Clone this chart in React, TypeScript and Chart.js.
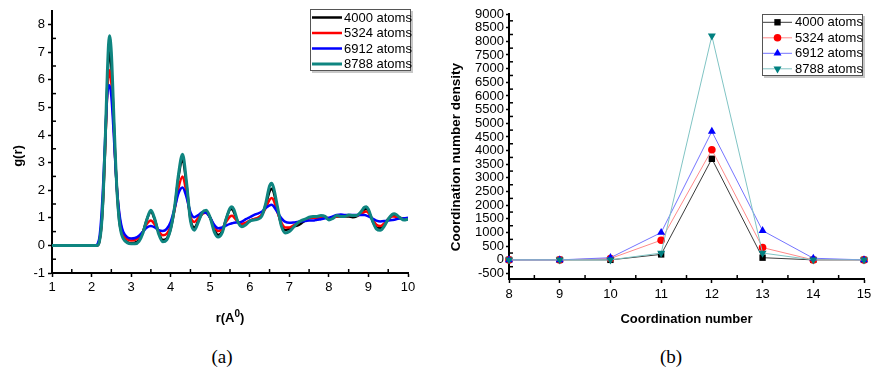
import React, { useEffect, useRef } from "react";
import { Chart, registerables } from "chart.js";

Chart.register(...registerables);
Chart.defaults.font.family = '"Liberation Sans", Arial, sans-serif';
Chart.defaults.color = "#000";

// ---------- (a) radial distribution function g(r) ----------
const rValues = [
  1.0, 2.0, 2.1, 2.15, 2.2, 2.25, 2.3, 2.35, 2.4, 2.45,
  2.5, 2.55, 2.6, 2.65, 2.7, 2.75, 2.8, 2.9, 3.0, 3.1,
  3.2, 3.3, 3.4, 3.5, 3.6, 3.7, 3.8, 3.9, 4.0, 4.1,
  4.2, 4.3, 4.4, 4.5, 4.6, 4.7, 4.8, 4.9, 5.0, 5.1,
  5.2, 5.3, 5.4, 5.5, 5.55, 5.6, 5.7, 5.8, 5.9, 6.0,
  6.1, 6.2, 6.3, 6.4, 6.5, 6.55, 6.6, 6.7, 6.8, 6.9,
  7.0, 7.1, 7.2, 7.3, 7.4, 7.5, 7.6, 7.7, 7.8, 7.9,
  8.0, 8.1, 8.2, 8.3, 8.4, 8.5, 8.6, 8.7, 8.8, 8.9,
  8.95, 9.0, 9.1, 9.2, 9.3, 9.4, 9.5, 9.6, 9.65, 9.7,
  9.8, 9.9, 10.0,
];

const g4000 = [
  0, 0, 0, 0, 0.15, 0.7, 1.9, 3.8, 5.9, 7.0,
  6.5, 4.9, 3.1, 1.8, 0.9, 0.5, 0.3, 0.12, 0.08, 0.1,
  0.2, 0.5, 0.95, 1.22, 0.92, 0.45, 0.2, 0.25, 0.6, 1.35,
  2.5, 3.1, 2.2, 0.95, 0.65, 0.9, 1.15, 1.2, 1.0, 0.6,
  0.38, 0.5, 0.95, 1.3, 1.32, 1.2, 0.85, 0.72, 0.78, 0.88,
  0.95, 0.98, 1.1, 1.45, 1.95, 2.05, 1.95, 1.3, 0.75, 0.55,
  0.6, 0.68, 0.72, 0.8, 0.9, 1.0, 1.02, 1.0, 1.05, 1.05,
  0.95, 1.0, 1.05, 1.05, 1.05, 1.05, 1.02, 1.05, 1.15, 1.3,
  1.32, 1.25, 0.9, 0.65, 0.62, 0.75, 0.95, 1.08, 1.1, 1.08,
  1.0, 0.95, 0.95,
];

const g5324 = [
  0, 0, 0, 0, 0.18, 0.75, 2.0, 3.8, 5.6, 6.35,
  5.9, 4.6, 3.1, 1.9, 1.1, 0.65, 0.4, 0.22, 0.18, 0.2,
  0.3, 0.5, 0.78, 0.9, 0.75, 0.5, 0.37, 0.42, 0.7, 1.3,
  2.1, 2.5, 1.9, 1.05, 0.85, 1.0, 1.15, 1.18, 1.0, 0.7,
  0.52, 0.6, 0.85, 1.05, 1.07, 1.02, 0.85, 0.78, 0.82, 0.9,
  0.95, 1.0, 1.1, 1.35, 1.65, 1.72, 1.65, 1.2, 0.82, 0.65,
  0.65, 0.72, 0.8, 0.88, 0.93, 0.98, 1.0, 1.0, 1.02, 1.02,
  0.97, 1.0, 1.05, 1.05, 1.05, 1.08, 1.08, 1.08, 1.12, 1.22,
  1.23, 1.18, 0.95, 0.75, 0.7, 0.8, 0.95, 1.05, 1.05, 1.03,
  1.0, 0.97, 0.97,
];

const g6912 = [
  0, 0, 0, 0.05, 0.3, 1.1, 2.4, 4.1, 5.5, 5.8,
  5.4, 4.3, 3.0, 1.9, 1.2, 0.75, 0.5, 0.3, 0.25, 0.27,
  0.35, 0.5, 0.65, 0.7, 0.65, 0.55, 0.52, 0.6, 0.85, 1.35,
  1.9, 2.1, 1.75, 1.2, 1.02, 1.1, 1.2, 1.18, 1.0, 0.75,
  0.62, 0.65, 0.72, 0.78, 0.8, 0.82, 0.83, 0.86, 0.95, 1.02,
  1.1, 1.15, 1.22, 1.35, 1.45, 1.47, 1.42, 1.2, 0.98, 0.85,
  0.82, 0.83, 0.85, 0.87, 0.88, 0.9, 0.9, 0.93, 0.95, 0.98,
  1.0, 1.05, 1.1, 1.12, 1.1, 1.1, 1.1, 1.1, 1.1, 1.1,
  1.08, 1.05, 0.98, 0.9, 0.87, 0.88, 0.9, 0.92, 0.93, 0.95,
  0.97, 0.98, 1.0,
];

const g8788 = [
  0, 0, 0, 0, 0.15, 0.7, 2.0, 4.0, 6.3, 7.6,
  7.0, 5.2, 3.3, 1.8, 0.9, 0.45, 0.25, 0.1, 0.06, 0.06,
  0.15, 0.45, 0.95, 1.27, 0.95, 0.4, 0.13, 0.2, 0.6, 1.4,
  2.6, 3.3, 2.3, 0.9, 0.55, 0.85, 1.2, 1.27, 1.0, 0.5,
  0.3, 0.45, 0.95, 1.35, 1.4, 1.3, 0.85, 0.68, 0.75, 0.88,
  0.92, 0.95, 1.05, 1.5, 2.15, 2.25, 2.1, 1.4, 0.7, 0.45,
  0.5, 0.65, 0.8, 0.9, 0.95, 1.02, 1.05, 1.05, 1.08, 1.05,
  0.92, 0.98, 1.08, 1.05, 1.05, 1.1, 1.08, 1.08, 1.2, 1.38,
  1.4, 1.3, 0.9, 0.6, 0.55, 0.7, 0.95, 1.12, 1.15, 1.12,
  1.0, 0.92, 0.95,
];

// ---------- (b) coordination number density ----------
const coordNumbers = [8, 9, 10, 11, 12, 13, 14, 15];
const cn4000 = [0, 0, 0, 200, 3700, 80, 0, 0];
const cn5324 = [0, 0, 50, 720, 4030, 450, 0, 0];
const cn6912 = [0, 0, 80, 1000, 4700, 1070, 60, 0];
const cn8788 = [0, 0, 0, 250, 8200, 250, 0, 0];
const densityTicks = [
  -500, 0, 500, 1000, 1500, 2000, 2500, 3000, 3500, 4000,
  4500, 5000, 5500, 6000, 6500, 7000, 7500, 8000, 8500, 9000,
];

const seriesLabels = ["4000 atoms", "5324 atoms", "6912 atoms", "8788 atoms"];

const FONT = '"Liberation Sans", Arial, sans-serif';

function drawMarker(ctx: CanvasRenderingContext2D, ds: any, x: number, y: number) {
  const r = ds.pointRadius;
  ctx.fillStyle = ds.pointBackgroundColor;
  ctx.beginPath();
  if (ds.pointStyle === "rect") {
    const s = r * Math.SQRT1_2;
    ctx.rect(x - s, y - s, 2 * s, 2 * s);
  } else if (ds.pointStyle === "circle") {
    ctx.arc(x, y, r, 0, Math.PI * 2);
  } else if (ds.pointStyle === "triangle") {
    const d = ds.pointRotation === 180 ? -1 : 1;
    ctx.moveTo(x, y - d * r);
    ctx.lineTo(x - r * 0.866, y + d * r * 0.5);
    ctx.lineTo(x + r * 0.866, y + d * r * 0.5);
    ctx.closePath();
  }
  ctx.fill();
}

const boxLegendPlugin = {
  id: "boxLegend",
  afterDatasetsDraw(chart: any, _args: any, o: any) {
    if (!o || !o.display) return;
    const ctx: CanvasRenderingContext2D = chart.ctx;
    ctx.save();
    ctx.fillStyle = "#c8c8c8";
    ctx.fillRect(o.x + 2, o.y + 2, o.w, o.h);
    ctx.fillStyle = "#fff";
    ctx.fillRect(o.x, o.y, o.w, o.h);
    ctx.strokeStyle = "#555";
    ctx.lineWidth = 1;
    ctx.strokeRect(o.x + 0.5, o.y + 0.5, o.w - 1, o.h - 1);
    chart.data.datasets.forEach((ds: any, i: number) => {
      const cy = o.firstY + i * o.rowH;
      ctx.strokeStyle = ds.borderColor;
      ctx.lineWidth = ds.borderWidth;
      ctx.beginPath();
      ctx.moveTo(o.lineX0, cy);
      ctx.lineTo(o.lineX1, cy);
      ctx.stroke();
      if (o.markers) drawMarker(ctx, ds, (o.lineX0 + o.lineX1) / 2, cy);
      ctx.fillStyle = "#000";
      ctx.font = `13px ${FONT}`;
      ctx.textBaseline = "middle";
      ctx.textAlign = "left";
      ctx.fillText(ds.label, o.textX, cy + 0.5);
    });
    ctx.restore();
  },
};

type Part = { t: string; sup?: boolean };

const decorPlugin = {
  id: "decor",
  afterDraw(chart: any, _args: any, o: any) {
    const ctx: CanvasRenderingContext2D = chart.ctx;
    ctx.save();
    ctx.strokeStyle = "#000";
    ctx.lineWidth = 1.5;
    const len = o.minorLen || 3;
    ["x", "y"].forEach((id) => {
      const s = chart.scales[id];
      const vals = s.ticks.map((t: any) => t.value);
      for (let i = 0; i < vals.length - 1; i++) {
        const p = s.getPixelForValue((vals[i] + vals[i + 1]) / 2);
        ctx.beginPath();
        if (s.isHorizontal()) {
          ctx.moveTo(p, s.top);
          ctx.lineTo(p, s.top - len);
        } else {
          ctx.moveTo(s.right, p);
          ctx.lineTo(s.right + len, p);
        }
        ctx.stroke();
      }
    });
    (o.titles || []).forEach((ti: any) => {
      ctx.save();
      ctx.translate(ti.x, ti.y);
      if (ti.rotate) ctx.rotate(-Math.PI / 2);
      ctx.fillStyle = "#000";
      ctx.textBaseline = "middle";
      ctx.textAlign = "left";
      const mainFont = `bold ${ti.size}px ${FONT}`;
      const supFont = `bold ${Math.round(ti.size * 0.75)}px ${FONT}`;
      let total = 0;
      const widths = ti.parts.map((p: Part) => {
        ctx.font = p.sup ? supFont : mainFont;
        const w = ctx.measureText(p.t).width;
        total += w;
        return w;
      });
      let cx = -total / 2;
      ti.parts.forEach((p: Part, i: number) => {
        ctx.font = p.sup ? supFont : mainFont;
        ctx.fillText(p.t, cx, p.sup ? -ti.size * 0.32 : 0);
        cx += widths[i];
      });
      ctx.restore();
    });
    ctx.restore();
  },
};

function axisCommon(tickLen: number, pad: number) {
  return {
    grid: { drawOnChartArea: false, tickLength: tickLen, tickColor: "#000", tickWidth: 1.5 },
    border: { color: "#000", width: 2 },
    ticks: {
      padding: pad,
      font: { size: 13 },
      color: "#000",
      includeBounds: false,
      maxRotation: 0,
      autoSkip: false,
      callback: (v: any) => String(v),
    },
  };
}

function grConfig(): any {
  const series = [g4000, g5324, g6912, g8788];
  const colors = ["#000000", "#ff0000", "#0000ff", "#0f8580"];
  const widths = [2.5, 2.5, 2.5, 3];
  const orders = [3, 2, 1, 0];
  const xa = axisCommon(4, 3);
  const ya = axisCommon(4, 3);
  return {
    type: "line",
    data: {
      datasets: series.map((vals, i) => ({
        label: seriesLabels[i],
        data: rValues.map((r, k) => ({ x: r, y: vals[k] })),
        borderColor: colors[i],
        borderWidth: widths[i],
        pointRadius: 0,
        cubicInterpolationMode: "monotone",
        fill: false,
        order: orders[i],
      })),
    },
    options: {
      animation: false,
      responsive: false,
      layout: { padding: { left: 0, right: 32, top: 9, bottom: 0 } },
      plugins: {
        legend: { display: false },
        tooltip: { enabled: false },
        boxLegend: { display: true, x: 310, y: 9, w: 101, h: 62, firstY: 17.5, rowH: 15.5, lineX0: 312, lineX1: 342, textX: 344, markers: false },
        decor: {
          minorLen: 4,
          titles: [
            { parts: [{ t: "g(r)" }], x: 18, y: 156, rotate: true, size: 13 },
            { parts: [{ t: "r(A" }, { t: "0", sup: true }, { t: ")" }], x: 230, y: 318, size: 13 },
          ],
        },
      },
      scales: {
        x: {
          type: "linear",
          min: 1,
          max: 10,
          ...xa,
          ticks: { ...xa.ticks, stepSize: 1 },
          afterFit: (s: any) => { s.height = 67; },
        },
        y: {
          type: "linear",
          min: -1,
          max: 8.5,
          ...ya,
          ticks: { ...ya.ticks, stepSize: 1 },
          afterFit: (s: any) => { s.width = 52; },
        },
      },
    },
    plugins: [boxLegendPlugin, decorPlugin],
  };
}

function cnConfig(): any {
  const series = [cn4000, cn5324, cn6912, cn8788];
  const lineColors = ["#3a3a3a", "#ff8a8a", "#7474ff", "#80c4c4"];
  const markColors = ["#000000", "#ff0000", "#0000ff", "#008080"];
  const styles = ["rect", "circle", "triangle", "triangle"];
  const radii = [4.5, 3.8, 4.6, 4.6];
  const rotations = [0, 0, 0, 180];
  const orders = [3, 2, 1, 0];
  const xa = axisCommon(4, 4);
  const ya = axisCommon(3, 2);
  return {
    type: "line",
    data: {
      datasets: series.map((vals, i) => ({
        label: seriesLabels[i],
        data: coordNumbers.map((c, k) => ({ x: c, y: vals[k] })),
        borderColor: lineColors[i],
        borderWidth: 1,
        pointStyle: styles[i],
        pointRadius: radii[i],
        pointRotation: rotations[i],
        pointBackgroundColor: markColors[i],
        pointBorderColor: markColors[i],
        pointBorderWidth: 0,
        tension: 0,
        fill: false,
        clip: false,
        order: orders[i],
      })),
    },
    options: {
      animation: false,
      responsive: false,
      layout: { padding: { left: 0, right: 16, top: 14, bottom: 0 } },
      plugins: {
        legend: { display: false },
        tooltip: { enabled: false },
        boxLegend: { display: true, x: 322, y: 14, w: 101, h: 62, firstY: 22.3, rowH: 15.5, lineX0: 323, lineX1: 352, textX: 355, markers: true },
        decor: {
          minorLen: 4,
          titles: [
            { parts: [{ t: "Coordination number density" }], x: 16.5, y: 157, rotate: true, size: 13.5 },
            { parts: [{ t: "Coordination number" }], x: 246.5, y: 319, size: 13 },
          ],
        },
      },
      scales: {
        x: {
          type: "linear",
          min: 8,
          max: 15,
          ...xa,
          ticks: { ...xa.ticks, stepSize: 1 },
          afterFit: (s: any) => { s.height = 61; },
        },
        y: {
          type: "linear",
          min: -700,
          max: 9000,
          ...ya,
          ticks: { ...ya.ticks },
          afterBuildTicks: (s: any) => {
            s.ticks = densityTicks.map((v) => ({ value: v }));
          },
          afterFit: (s: any) => { s.width = 69; },
        },
      },
    },
    plugins: [boxLegendPlugin, decorPlugin],
  };
}

function ChartBox({ make, left }: { make: () => any; left: number }) {
  const ref = useRef<HTMLCanvasElement>(null);
  useEffect(() => {
    const chart = new Chart(ref.current as HTMLCanvasElement, make());
    return () => chart.destroy();
  }, []);
  return (
    <div style={{ position: "absolute", left, top: 0, width: 440, height: 340 }}>
      <canvas ref={ref} width={440} height={340} style={{ display: "block" }} />
    </div>
  );
}

const captionStyle: React.CSSProperties = {
  position: "absolute",
  top: 346,
  width: 60,
  height: 22,
  lineHeight: "22px",
  textAlign: "center",
  fontFamily: '"Liberation Serif", "DejaVu Serif", serif',
  fontSize: 19,
  color: "#000",
};

export default function App() {
  return (
    <div style={{ position: "absolute", left: 0, top: 0, width: 880, height: 371, background: "#fff", overflow: "hidden" }}>
      <ChartBox make={grConfig} left={0} />
      <ChartBox make={cnConfig} left={440} />
      <div style={{ ...captionStyle, left: 222 - 30 }}>(a)</div>
      <div style={{ ...captionStyle, left: 671 - 30 }}>(b)</div>
    </div>
  );
}
